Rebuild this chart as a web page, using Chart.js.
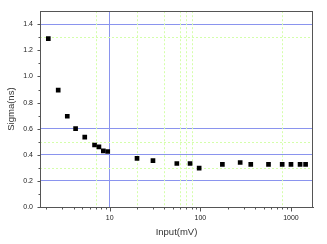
<!DOCTYPE html>
<html>
<head>
<meta charset="utf-8">
<script src="https://cdn.jsdelivr.net/npm/chart.js@4/dist/chart.umd.min.js"></script>
<style>
  html, body { margin: 0; padding: 0; background: #fff; }
  canvas { display: block; }
</style>
</head>
<body>
<canvas id="chart" width="327" height="244"></canvas>
<script>
// --- Data ---
const inputMv = [2.1, 2.7, 3.4, 4.2, 5.3, 6.8, 7.6, 8.5, 9.5, 20, 30, 55, 77, 97, 175, 275, 360, 565, 800, 1000, 1260, 1450];
const sigmaNs = [1.29, 0.895, 0.695, 0.60, 0.535, 0.475, 0.46, 0.43, 0.425, 0.373, 0.355, 0.333, 0.333, 0.298, 0.326, 0.341, 0.326, 0.326, 0.326, 0.326, 0.326, 0.326];

const xTicks = [2, 3, 4, 5, 6, 7, 8, 9, 10, 20, 30, 40, 50, 60, 70, 80, 90, 100, 200, 300, 400, 500, 600, 700, 800, 900, 1000];
const xLabels = [10, 100, 1000];
const yTicks = [0, 0.1, 0.2, 0.3, 0.4, 0.5, 0.6, 0.7, 0.8, 0.9, 1.0, 1.1, 1.2, 1.3, 1.4];
const yLabels = [0, 0.2, 0.4, 0.6, 0.8, 1.0, 1.2, 1.4];

// grid lines seen in the picture
const blueY = [0.2, 0.4, 0.6, 1.4];
const blueX = [10];
const dottedY = [0.3, 0.5, 1.3];
const dottedX = [7, 20, 40, 60, 70, 80, 800];

const BLUE = '#8a94ee';
const GREEN = '#d4ffaa';
const FRAME = '#555555';

const tenths = v => Math.round(v * 10);
const hasTenth = (list, v) => list.some(t => tenths(t) === tenths(v));

// draws the dotted minor grid, the frame and the outward tick marks
const framePlugin = {
    id: 'frame',
    beforeDatasetsDraw(chart) {
        const { ctx, chartArea: a, scales: { x, y } } = chart;
        ctx.save();
        ctx.strokeStyle = GREEN;
        ctx.lineWidth = 1;
        ctx.setLineDash([2, 2]);
        dottedY.forEach(v => {
            const py = Math.round(y.getPixelForValue(v)) + 0.5;
            ctx.beginPath(); ctx.moveTo(a.left, py); ctx.lineTo(a.right, py); ctx.stroke();
        });
        dottedX.forEach(v => {
            const px = Math.round(x.getPixelForValue(v)) + 0.5;
            ctx.beginPath(); ctx.moveTo(px, a.top); ctx.lineTo(px, a.bottom); ctx.stroke();
        });
        ctx.restore();
    },
    afterDraw(chart) {
        const { ctx, chartArea: a, scales: { x, y } } = chart;
        ctx.save();
        ctx.strokeStyle = FRAME;
        ctx.lineWidth = 1;
        ctx.strokeRect(Math.round(a.left) + 0.5, Math.round(a.top) + 0.5,
            Math.round(a.right - a.left) - 1, Math.round(a.bottom - a.top));
        const bottom = Math.round(a.bottom) + 0.5;
        xTicks.forEach(v => {
            const px = Math.round(x.getPixelForValue(v)) + 0.5;
            const len = xLabels.includes(v) ? 4 : 2;
            ctx.beginPath(); ctx.moveTo(px, bottom); ctx.lineTo(px, bottom + len); ctx.stroke();
        });
        const left = Math.round(a.left) + 0.5;
        yTicks.forEach(v => {
            const py = Math.round(y.getPixelForValue(v)) + 0.5;
            const len = hasTenth(yLabels, v) ? 3 : 2;
            ctx.beginPath(); ctx.moveTo(left, py); ctx.lineTo(left - len, py); ctx.stroke();
        });
        ctx.restore();
    }
};

const tickFont = { family: 'Liberation Sans, Arial, sans-serif', size: 7 };
const titleFont = { family: 'Liberation Sans, Arial, sans-serif', size: 9.5 };

new Chart(document.getElementById('chart'), {
    type: 'scatter',
    data: {
        datasets: [{
            data: inputMv.map((v, i) => ({ x: v, y: sigmaNs[i] })),
            pointStyle: 'rect',
            pointRadius: 3.3,
            backgroundColor: '#000',
            borderWidth: 0
        }]
    },
    options: {
        responsive: false,
        animation: false,
        layout: { padding: { top: 5, right: 14, bottom: 0, left: 0 } },
        plugins: {
            legend: { display: false },
            tooltip: { enabled: false }
        },
        scales: {
            x: {
                type: 'logarithmic',
                min: 1.7,
                max: 1750,
                afterBuildTicks: scale => { scale.ticks = xTicks.map(v => ({ value: v })); },
                afterFit: scale => { scale.height = 37; },
                ticks: {
                    autoSkip: false,
                    maxRotation: 0,
                    padding: 7,
                    color: '#222',
                    font: tickFont,
                    callback: v => xLabels.includes(v) ? String(v) : ''
                },
                grid: {
                    drawTicks: false,
                    color: c => c.tick && blueX.includes(c.tick.value) ? BLUE : 'rgba(0,0,0,0)'
                },
                border: { color: FRAME },
                title: {
                    display: true,
                    text: 'Input(mV)',
                    color: '#333',
                    font: titleFont,
                    padding: { top: 0, bottom: 6 }
                }
            },
            y: {
                min: 0,
                max: 1.5,
                afterBuildTicks: scale => { scale.ticks = yTicks.map(v => ({ value: v })); },
                afterFit: scale => { scale.width = 40; },
                ticks: {
                    autoSkip: false,
                    padding: 7,
                    color: '#222',
                    font: tickFont,
                    callback: v => hasTenth(yLabels, v) ? v.toFixed(1) : ''
                },
                grid: {
                    drawTicks: false,
                    color: c => c.tick && hasTenth(blueY, c.tick.value) ? BLUE : 'rgba(0,0,0,0)'
                },
                border: { color: FRAME },
                title: {
                    display: true,
                    text: 'Sigma(ns)',
                    color: '#333',
                    font: titleFont,
                    padding: { top: 6, bottom: 0 }
                }
            }
        }
    },
    plugins: [framePlugin]
});
</script>
</body>
</html>
